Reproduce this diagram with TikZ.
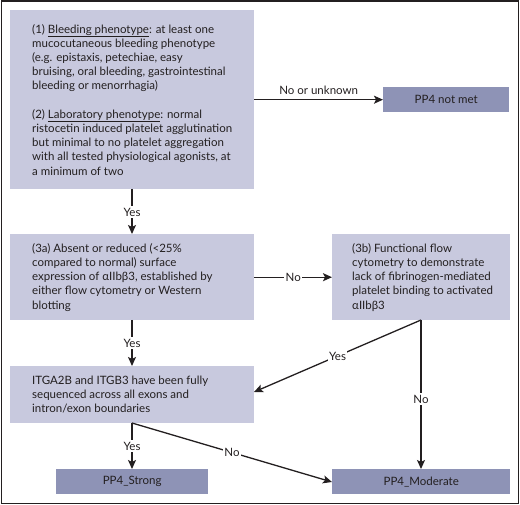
\documentclass[tikz,border=0pt]{standalone}
\usepackage{fontspec}
\setmainfont{Lato}
\usetikzlibrary{arrows.meta}
\definecolor{boxlight}{RGB}{200,201,222}
\definecolor{boxdark}{RGB}{142,147,182}
\definecolor{ink}{RGB}{35,31,32}
\tikzset{
  every node/.style={text=ink, font=\fontsize{11.5}{14.2}\selectfont},
  lightbox/.style={fill=boxlight, rectangle, anchor=north west, inner sep=0pt},
  boxtext/.style={anchor=west, inner sep=0pt, align=left},
  darkbox/.style={fill=boxdark, rectangle, anchor=north west, inner sep=0pt, align=center},
  conn/.style={draw=ink, line width=1.3pt},
  arr/.style={conn, -{Stealth[length=9pt,width=8pt,inset=2pt]}},
  lbl/.style={fill=white, inner sep=1.5pt},
}
\begin{document}
\begin{tikzpicture}[x=1pt,y=-1pt]
\useasboundingbox (0,0) rectangle (520,505);
\draw[line width=1.4pt, ink] (1.2,1.2) rectangle (518.3,503.3);

\node[lightbox, minimum width=244pt, minimum height=179pt] (b1) at (10,10) {};
\node[boxtext] (b1t) at ([xshift=22pt]b1.west)
 {(1) \underline{Bleeding phenotype}: at least one\\
 mucocutaneous bleeding phenotype\\
 (e.g. epistaxis, petechiae, easy\\
 bruising, oral bleeding, gastrointestinal\\
 bleeding or menorrhagia)\\[14.2pt]
 (2) \underline{Laboratory phenotype}: normal\\
 ristocetin induced platelet agglutination\\
 but minimal to no platelet aggregation\\
 with all tested physiological agonists, at\\
 a minimum of two};

\node[darkbox, minimum width=126pt, minimum height=25pt] (nm) at (383,87) {PP4 not met};

\node[lightbox, minimum width=244pt, minimum height=86pt] (b3a) at (10,234) {};
\node[boxtext] (b3at) at ([xshift=22pt]b3a.west)
 {(3a) Absent or reduced (<25\%\\
 compared to normal) surface\\
 expression of αIIbβ3, established by\\
 either flow cytometry or Western\\
 blotting};

\node[lightbox, minimum width=178pt, minimum height=86pt] (b3b) at (332,234) {};
\node[boxtext] (b3bt) at ([xshift=20pt]b3b.west)
 {(3b) Functional flow\\
 cytometry to demonstrate\\
 lack of fibrinogen-mediated\\
 platelet binding to activated\\
 αIIbβ3};

\node[lightbox, minimum width=244pt, minimum height=57pt] (b4) at (10,366) {};
\node[boxtext] (b4t) at ([xshift=22pt]b4.west)
 {ITGA2B and ITGB3 have been fully\\
 sequenced across all exons and\\
 intron/exon boundaries};

\node[darkbox, minimum width=152pt, minimum height=25pt] (st) at (56,469) {PP4\_Strong};
\node[darkbox, minimum width=178pt, minimum height=25pt] (md) at (332,469) {PP4\_Moderate};

\coordinate (b1s) at (132,189);
\coordinate (b3as) at (132,320);
\coordinate (b3bs) at (421,320);
\coordinate (b4s) at (132,423);
\coordinate (b4e) at (254,392);
\coordinate (mdw) at (332,482);

\draw[arr] (b1.east |- nm.west) -- node[above=4pt, inner sep=0pt] {No or unknown} (nm.west);
\draw[arr] (b1s) -- node[lbl, pos=0.51] {Yes} (b3as |- b3a.north);
\draw[arr] (b3a.east) -- node[lbl, pos=0.5] {No} (b3b.west);
\draw[arr] (b3as) -- node[lbl, pos=0.5] {Yes} (b4s |- b4.north);
\draw[arr] (b3bs) -- node[lbl, pos=0.5] {Yes} (b4e);
\draw[arr] (b3bs) -- node[lbl, pos=0.53] {No} (b3bs |- md.north);
\draw[arr] (b4s) -- node[lbl, pos=0.5] {Yes} (b4s |- st.north);
\draw[arr] (b4s) -- node[lbl, pos=0.5] {No} (mdw);
\end{tikzpicture}
\end{document}
